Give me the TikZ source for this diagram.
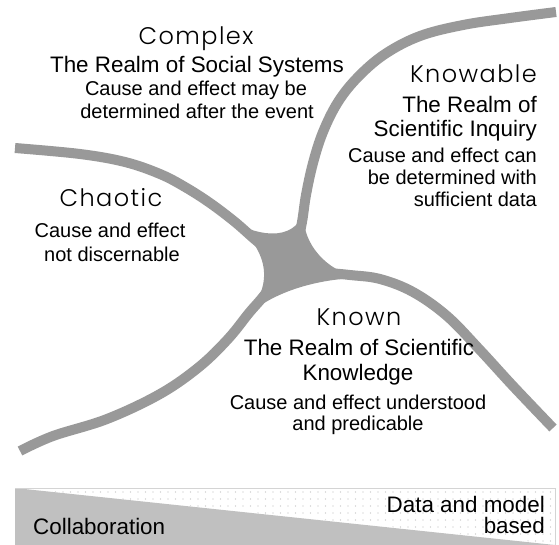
\documentclass[tikz,border=0pt]{standalone}
\usepackage{fontspec}
\setmainfont{Liberation Sans}
\newfontfamily\titlefont{Poppins Light}[LetterSpace=6]
\definecolor{band}{RGB}{153,153,153}
\definecolor{barfill}{RGB}{192,192,192}
\definecolor{barline}{RGB}{212,212,212}
\definecolor{dotc}{RGB}{190,190,190}
\begin{document}
\begin{tikzpicture}[x=1pt,y=-1pt,
  bandline/.style={draw=band,line width=10pt,line cap=butt},
  ttl/.style={font=\titlefont\fontsize{24}{28}\selectfont, inner sep=0pt, anchor=base},
  big/.style={font=\fontsize{22.4}{27}\selectfont, inner sep=0pt, anchor=base},
  sml/.style={font=\fontsize{20}{24}\selectfont, inner sep=0pt, anchor=base},
]
\useasboundingbox (0,0) rectangle (559,544);
\fill[white] (0,0) rectangle (559,544);

% bands
\draw[bandline] plot[smooth,tension=0.6] coordinates {(556,12) (510,18) (463,25) (420,36) (385,54) (358,77) (338,102) (323,132) (313,163) (306,195) (302,222) (296,250)};
\draw[bandline] plot[smooth,tension=0.6] coordinates {(15,148) (80,154) (125,162) (160,174) (185,187) (210,203) (235,222) (258,242) (280,258)};
\draw[bandline] plot[smooth,tension=0.6] coordinates {(295,268) (320,272) (350,275) (380,279) (413,292) (447,316) (480,350) (513,386) (553,428)};
\draw[bandline] plot[smooth,tension=0.6] coordinates {(280,275) (262,298) (249,313) (228,339) (199,367) (160,394) (107,419) (53,436) (20,451)};

% central junction
\coordinate (jl) at (230,218);
\coordinate (jt) at (304,210);
\coordinate (jr) at (355,275.7);
\coordinate (jr2) at (380,279);
\coordinate (jb) at (245,318);
\fill[band] (jl) .. controls (250,235) and (296,245) .. (jt)
  .. controls (300,245) and (330,272) .. (jr) -- (jr2)
  .. controls (330,274) and (272,290) .. (jb)
  .. controls (276,282) and (268,250) .. (jl) -- cycle;

% bottom bar
\fill[white] (15,488) rectangle (555,544);
\begin{scope}
  \clip (15,488) -- (555,488) -- (555,544) -- cycle;
  \foreach \i in {0,...,71} \foreach \j in {0,...,7}
    \fill[dotc] (18+7.5*\i, 492+7*\j) circle (0.7);
\end{scope}
\fill[barfill] (15,488) -- (555,545) -- (15,545) -- cycle;
\draw[barline, line width=1pt] (15,488) -- (555,488) -- (555,545);

% texts
\node[ttl] (cx) at (196,44) {Complex};
\node[big] (cx1) at (197,72) {The Realm of Social Systems};
\node[sml] (cx2) at (196,95) {Cause and effect may be};
\node[sml] (cx3) at (197,118) {determined after the event};

\node[ttl,anchor=base east] (kb) at (537,82) {Knowable};
\node[big,anchor=base east] (kb1) at (537,112) {The Realm of};
\node[big,anchor=base east] (kb2) at (537,136) {Scientific Inquiry};
\node[sml,anchor=base east] (kb3) at (537,162) {Cause and effect can};
\node[sml,anchor=base east] (kb4) at (537,184) {be determined with};
\node[sml,anchor=base east] (kb5) at (537,206) {sufficient data};

\node[ttl] (ch) at (111,206) {Chaotic};
\node[sml] (ch1) at (110,237) {Cause and effect};
\node[sml] (ch2) at (112,261) {not discernable};

\node[ttl] (kn) at (359,325) {Known};
\node[big] (kn1) at (359,355) {The Realm of Scientific};
\node[big] (kn2) at (358,380) {Knowledge};
\node[sml] (kn3) at (358,409) {Cause and effect understood};
\node[sml] (kn4) at (358,430) {and predicable};

\node[big,anchor=base west] (col) at (33,534) {Collaboration};
\node[big,anchor=base east] (dm1) at (545,512) {Data and model};
\node[big,anchor=base east] (dm2) at (545,533) {based};
\end{tikzpicture}
\end{document}
